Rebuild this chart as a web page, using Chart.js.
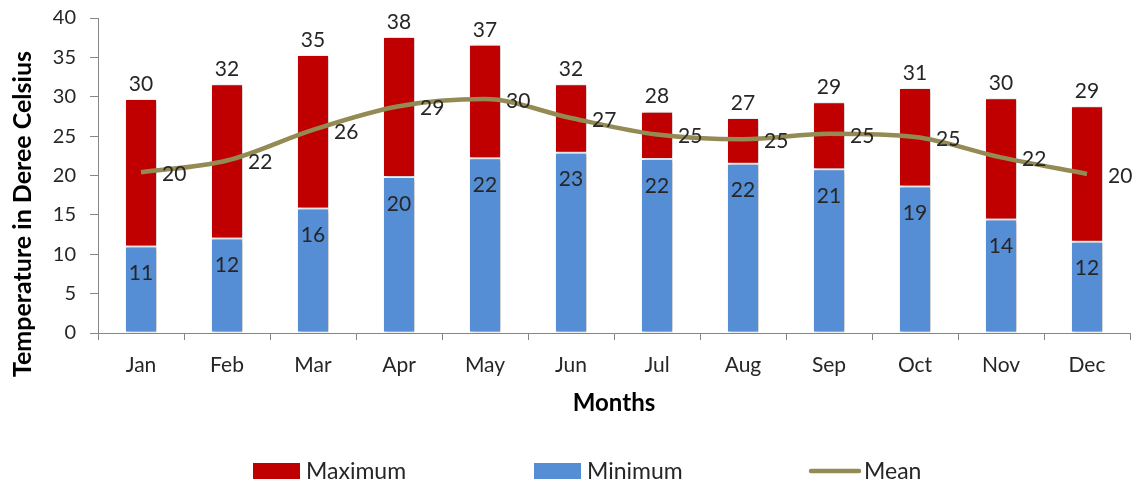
<!DOCTYPE html>
<html>
<head>
<meta charset="utf-8">
<script src="https://cdn.jsdelivr.net/npm/chart.js@4/dist/chart.umd.min.js"></script>
<style>
  html, body { margin: 0; padding: 0; background: #ffffff; }
  #wrap { width: 1139px; height: 483px; }
</style>
</head>
<body>
<div id="wrap"><canvas id="c" width="1139" height="483"></canvas></div>
<script>
// Monthly temperatures (°C)
const months = ['Jan', 'Feb', 'Mar', 'Apr', 'May', 'Jun', 'Jul', 'Aug', 'Sep', 'Oct', 'Nov', 'Dec'];
const maxTemps  = [29.7, 31.6, 35.3, 37.6, 36.6, 31.6, 28.1, 27.3, 29.3, 31.1, 29.8, 28.8];
const minTemps  = [11.0, 12.0, 15.8, 19.8, 22.2, 22.9, 22.1, 21.5, 20.8, 18.6, 14.4, 11.6];
const meanTemps = [20.4, 21.9, 25.8, 28.8, 29.7, 27.3, 25.2, 24.6, 25.3, 24.9, 22.3, 20.2];

const RED = '#C00000';
const BLUE = '#558ED5';
const OLIVE = '#948A54';
const TEXT = '#262626';
const AXIS = '#868686';
const FONT = 'Lato, "Open Sans", sans-serif';

// soft drop shadow behind the bar columns
const barShadow = {
  id: 'barShadow',
  beforeDatasetDraw(chart, args) {
    if (args.meta.type !== 'bar') return;
    const ctx = chart.ctx;
    ctx.save();
    ctx.shadowColor = 'rgba(0,0,0,0.30)';
    ctx.shadowBlur = 4;
    ctx.shadowOffsetX = 1.5;
    ctx.shadowOffsetY = 0.5;
  },
  afterDatasetDraw(chart, args) {
    if (args.meta.type !== 'bar') return;
    chart.ctx.restore();
  }
};

// value labels for max, min and mean
const valueLabels = {
  id: 'valueLabels',
  afterDatasetsDraw(chart) {
    const ctx = chart.ctx;
    const y = chart.scales.y;
    const x = chart.scales.x;
    ctx.save();
    ctx.fillStyle = TEXT;
    ctx.font = '21px ' + FONT;
    ctx.textBaseline = 'middle';
    months.forEach((m, i) => {
      const cx = x.getPixelForValue(i);
      ctx.textAlign = 'center';
      ctx.fillText(String(Math.round(maxTemps[i])), cx, y.getPixelForValue(maxTemps[i]) - 15);
      ctx.fillText(String(Math.round(minTemps[i])), cx, y.getPixelForValue(minTemps[i]) + 27);
      ctx.textAlign = 'left';
      ctx.fillText(String(Math.round(meanTemps[i])), cx + 21, y.getPixelForValue(meanTemps[i]) + 2);
    });
    ctx.restore();
  }
};

// vertical axis title and bottom legend
const extras = {
  id: 'extras',
  afterDraw(chart) {
    const ctx = chart.ctx;
    ctx.save();
    ctx.fillStyle = '#000000';
    ctx.font = 'bold 25px ' + FONT;
    ctx.textAlign = 'center';
    ctx.textBaseline = 'middle';
    ctx.translate(23, 214);
    ctx.rotate(-Math.PI / 2);
    ctx.fillText('Temperature in Deree Celsius', 0, 0);
    ctx.restore();

    ctx.save();
    const ly = 471;
    ctx.font = '23px ' + FONT;
    ctx.textAlign = 'left';
    ctx.textBaseline = 'middle';
    ctx.fillStyle = RED;
    ctx.fillRect(253, ly - 8, 47, 16);
    ctx.fillStyle = BLUE;
    ctx.fillRect(534, ly - 8, 47, 16);
    ctx.strokeStyle = OLIVE;
    ctx.lineWidth = 4.5;
    ctx.lineCap = 'round';
    ctx.beginPath();
    ctx.moveTo(811, ly);
    ctx.lineTo(859, ly);
    ctx.stroke();
    ctx.fillStyle = TEXT;
    ctx.fillText('Maximum', 306, ly + 1);
    ctx.fillText('Minimum', 587, ly + 1);
    ctx.fillText('Mean', 864, ly + 1);
    ctx.restore();
  }
};

new Chart(document.getElementById('c'), {
  type: 'bar',
  data: {
    labels: months,
    datasets: [
      {
        type: 'line',
        label: 'Mean',
        data: meanTemps,
        borderColor: OLIVE,
        borderWidth: 4.5,
        cubicInterpolationMode: 'monotone',
        pointRadius: 0,
        fill: false,
        order: 0
      },
      {
        label: 'Maximum',
        data: minTemps.map((lo, i) => [lo, maxTemps[i]]),
        backgroundColor: RED,
        borderColor: '#ffffff',
        borderWidth: 1,
        borderSkipped: false,
        grouped: false,
        order: 1
      },
      {
        label: 'Minimum',
        data: minTemps,
        backgroundColor: BLUE,
        borderColor: '#ffffff',
        borderWidth: 1,
        borderSkipped: false,
        grouped: false,
        order: 2
      }
    ]
  },
  options: {
    responsive: false,
    animation: false,
    devicePixelRatio: 1,
    layout: { padding: { left: 0, right: 9, top: 18, bottom: 40 } },
    datasets: { bar: { categoryPercentage: 1, barPercentage: 0.372 } },
    plugins: {
      legend: { display: false },
      tooltip: { enabled: false }
    },
    scales: {
      x: {
        offset: true,
        grid: { offset: true, drawOnChartArea: false, drawTicks: true, tickLength: 7, color: AXIS },
        border: { color: AXIS },
        ticks: { color: TEXT, font: { family: FONT, size: 21 }, padding: 13 },
        title: {
          display: true,
          text: 'Months',
          color: '#000000',
          font: { family: FONT, size: 24, weight: 'bold' },
          padding: { top: 0, bottom: 25 }
        },
        afterFit(s) { s.height = 110; s.paddingLeft = 0; s.paddingRight = 0; }
      },
      y: {
        min: 0,
        max: 40,
        ticks: { stepSize: 5, color: TEXT, font: { family: FONT, size: 20 }, padding: 14 },
        grid: { drawOnChartArea: false, drawTicks: true, tickLength: 8, color: AXIS },
        border: { color: AXIS },
        afterFit(s) { s.width = 98; s.paddingTop = 0; s.paddingBottom = 0; }
      }
    }
  },
  plugins: [barShadow, valueLabels, extras]
});
</script>
</body>
</html>
